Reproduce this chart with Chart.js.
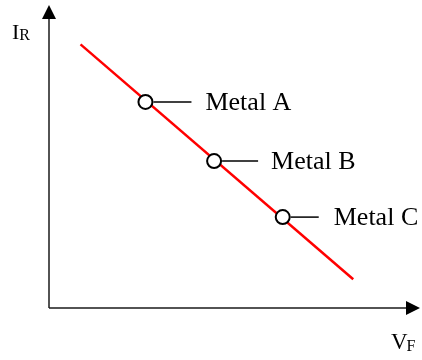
<!DOCTYPE html>
<html>
<head>
<meta charset="utf-8">
<script src="https://cdn.jsdelivr.net/npm/chart.js@4.4.1/dist/chart.umd.min.js"></script>
<style>
  html, body { margin: 0; padding: 0; background: #fff; }
  #wrap { width: 422px; height: 360px; }
</style>
</head>
<body>
<div id="wrap"><canvas id="c" width="422" height="360"></canvas></div>
<script>
// Trend line of reverse current against forward voltage (arbitrary units)
const trendX = [0.85, 8.2];
const trendY = [8.7, 0.95];

// Operating points for each metal
const metals = ['Metal A', 'Metal B', 'Metal C'];
const metalX = [2.6, 4.45, 6.3];
const metalY = [6.8, 4.85, 3.0];

// Axis titles (main letter + subscript)
const yTitle = ['I', 'R'];
const xTitle = ['V', 'F'];

const SERIF = '"Liberation Serif", "Times New Roman", serif';

// Leader line length and label offset (px from point centre) per metal
const leaderStyle = [
  { len: 46, text: 60 },
  { len: 44, text: 57 },
  { len: 36, text: 51 }
];

const annotate = {
  id: 'annotate',
  beforeDatasetsDraw(chart) {
    const { ctx, chartArea: a } = chart;
    ctx.save();
    ctx.strokeStyle = '#1a1a1a';
    ctx.fillStyle = '#000';
    ctx.lineWidth = 1.5;
    const ox = a.left, oy = a.bottom;
    // vertical axis with arrow
    ctx.beginPath();
    ctx.moveTo(ox, oy);
    ctx.lineTo(ox, a.top + 12);
    ctx.stroke();
    ctx.beginPath();
    ctx.moveTo(ox, a.top);
    ctx.lineTo(ox - 7, a.top + 14);
    ctx.lineTo(ox + 7, a.top + 14);
    ctx.closePath();
    ctx.fill();
    // horizontal axis with arrow
    ctx.beginPath();
    ctx.moveTo(ox, oy);
    ctx.lineTo(a.right - 12, oy);
    ctx.stroke();
    ctx.beginPath();
    ctx.moveTo(a.right, oy);
    ctx.lineTo(a.right - 14, oy - 7);
    ctx.lineTo(a.right - 14, oy + 7);
    ctx.closePath();
    ctx.fill();

    // axis titles
    ctx.textBaseline = 'alphabetic';
    ctx.textAlign = 'left';
    ctx.font = '22px ' + SERIF;
    ctx.fillText(yTitle[0], 12, 39);
    let w = ctx.measureText(yTitle[0]).width;
    ctx.font = '16px ' + SERIF;
    ctx.fillText(yTitle[1], 12 + w, 39.5);

    ctx.font = '23px ' + SERIF;
    ctx.fillText(xTitle[0], 391, 349);
    w = ctx.measureText(xTitle[0]).width;
    ctx.font = '16px ' + SERIF;
    ctx.fillText(xTitle[1], 391 + w - 1, 351);
    ctx.restore();
  },
  afterDatasetsDraw(chart) {
    const { ctx, scales: { x, y } } = chart;
    ctx.save();
    ctx.strokeStyle = '#000';
    ctx.fillStyle = '#000';
    ctx.lineWidth = 1.5;
    ctx.font = '26px ' + SERIF;
    ctx.textBaseline = 'middle';
    ctx.textAlign = 'left';
    metals.forEach((name, i) => {
      const px = x.getPixelForValue(metalX[i]);
      const py = y.getPixelForValue(metalY[i]);
      const s = leaderStyle[i];
      ctx.beginPath();
      ctx.moveTo(px + 8, py);
      ctx.lineTo(px + s.len, py);
      ctx.stroke();
      ctx.fillText(name, px + s.text, py + 1);
    });
    ctx.restore();
  }
};

new Chart(document.getElementById('c'), {
  type: 'scatter',
  data: {
    datasets: [
      {
        label: 'Metals',
        data: metalX.map((v, i) => ({ x: v, y: metalY[i] })),
        pointRadius: 7,
        pointHoverRadius: 7,
        pointBackgroundColor: '#fff',
        pointBorderColor: '#000',
        pointBorderWidth: 2,
        showLine: false,
        order: 0
      },
      {
        label: 'Trend',
        data: trendX.map((v, i) => ({ x: v, y: trendY[i] })),
        showLine: true,
        borderColor: '#ff0000',
        borderWidth: 2.5,
        pointRadius: 0,
        pointHoverRadius: 0,
        order: 1
      }
    ]
  },
  options: {
    responsive: false,
    animation: false,
    events: [],
    layout: { autoPadding: false, padding: { left: 49, top: 5, right: 2, bottom: 52 } },
    plugins: { legend: { display: false }, tooltip: { enabled: false } },
    scales: {
      x: { type: 'linear', min: 0, max: 10, display: false },
      y: { type: 'linear', min: 0, max: 10, display: false }
    }
  },
  plugins: [annotate]
});
</script>
</body>
</html>
